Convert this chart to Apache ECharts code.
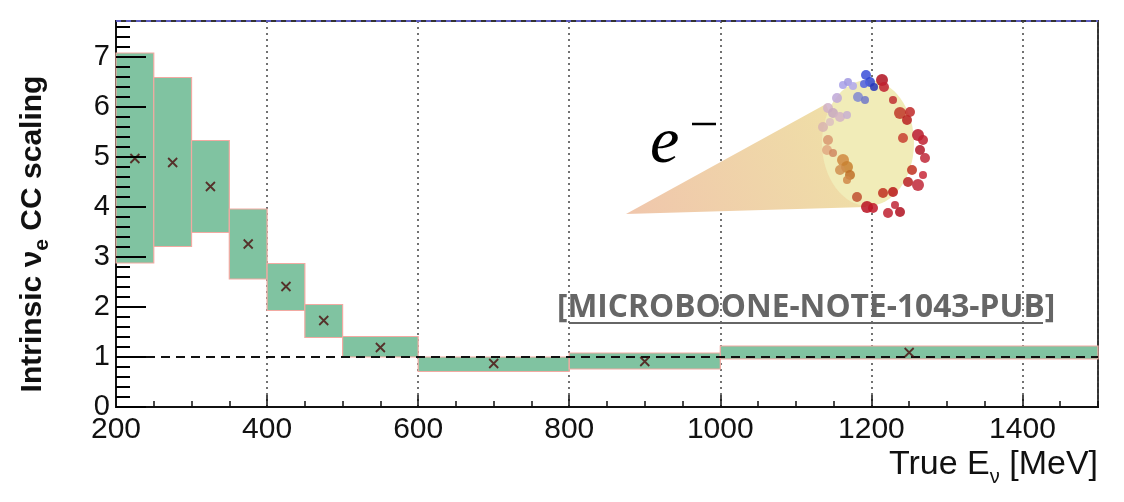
<!DOCTYPE html>
<html>
<head>
<meta charset="utf-8">
<script src="https://cdn.jsdelivr.net/npm/echarts@6/dist/echarts.min.js"></script>
<style>
  html, body { margin: 0; padding: 0; background: #fff; }
  #main { width: 1124px; height: 502px; }
</style>
</head>
<body>
<div id="main"></div>
<script>
// bins in true neutrino energy (MeV)
var binLow = [200, 250, 300, 350, 400, 450, 500, 600, 800, 1000];
var binHigh = [250, 300, 350, 400, 450, 500, 600, 800, 1000, 1500];
// band edges and central value of the scaling
var bandDown = [2.88, 3.21, 3.49, 2.56, 1.93, 1.39, 1.00, 0.71, 0.76, 0.96];
var bandUp = [7.08, 6.59, 5.33, 3.96, 2.87, 2.05, 1.41, 1.00, 1.08, 1.22];
var central = [4.97, 4.89, 4.41, 3.26, 2.41, 1.73, 1.19, 0.87, 0.91, 1.09];
var xTicks = [200, 400, 600, 800, 1000, 1200, 1400];
var yTicks = [0, 1, 2, 3, 4, 5, 6, 7];
var yMinorTicks = [0.2, 0.4, 0.6, 0.8, 1.2, 1.4, 1.6, 1.8, 2.2, 2.4, 2.6, 2.8, 3.2, 3.4, 3.6, 3.8,
  4.2, 4.4, 4.6, 4.8, 5.2, 5.4, 5.6, 5.8, 6.2, 6.4, 6.6, 6.8, 7.2, 7.4, 7.6];
var yMax = 7.72;

var chart = echarts.init(document.getElementById('main'));

var bandData = [];
var pointData = [];
for (var i = 0; i < binLow.length; i++) {
  bandData.push([binLow[i], binHigh[i], bandDown[i], bandUp[i]]);
  pointData.push([(binLow[i] + binHigh[i]) / 2, central[i]]);
}
// third value: 1 = long tick, 0 = short tick
var yTickData = yTicks.map(function (v) { return [200, v, 1]; })
  .concat(yMinorTicks.map(function (v) { return [200, v, 0]; }));

// decoration: electron shower cone
var balls = [
  [866, 75, 5, '#3b4fd8'], [870, 82, 5, '#2f45d0'], [864, 84, 4, '#5060e0'], [874, 87, 4, '#2535b8'],
  [882, 80, 6, '#b01020'], [884, 87, 5, '#c02030'],
  [843, 85, 4, '#a8a0e8'], [848, 82, 4, '#a098e0'], [853, 86, 4, '#b0a8ec'], [858, 97, 5, '#8088d0'],
  [865, 100, 4, '#7078c8'], [837, 98, 5, '#c0a8d8'], [828, 108, 5, '#d0b0c8'], [833, 113, 5, '#c8a8c0'],
  [840, 117, 5, '#d4b4c4'], [847, 115, 4, '#c8b0d0'], [823, 127, 5, '#d8b4b0'], [830, 122, 4, '#dcc0c0'],
  [828, 140, 5, '#d89870'], [827, 150, 5, '#e0a880'], [833, 153, 4, '#d08860'], [843, 160, 6, '#d08a40'],
  [847, 167, 6, '#c88030'], [840, 170, 5, '#d09050'], [850, 175, 5, '#c07028'], [847, 180, 4, '#d08848'],
  [857, 197, 5, '#c05030'], [893, 100, 4, '#c03030'], [900, 113, 6, '#c03828'], [907, 120, 5, '#b82020'],
  [910, 112, 5, '#c02828'], [918, 135, 6, '#b81828'], [923, 140, 5, '#c02030'], [903, 138, 5, '#c84030'],
  [920, 150, 5, '#b01828'], [925, 158, 5, '#c02838'], [912, 170, 5, '#c03020'], [923, 175, 4, '#c82838'],
  [908, 182, 5, '#b82020'], [918, 185, 6, '#c02838'], [893, 192, 5, '#b81818'], [883, 193, 5, '#c03020'],
  [867, 207, 6, '#b81020'], [873, 208, 5, '#c01828'], [888, 213, 5, '#c02030'], [900, 212, 5, '#b01020'],
  [895, 205, 4, '#c02838']
];
var coneGraphics = [
  {
    type: 'polygon', z: 1,
    shape: { points: [[626, 214], [826, 104], [866, 207]] },
    style: {
      fill: new echarts.graphic.LinearGradient(0, 1, 1, 0, [
        { offset: 0, color: '#f0c6ac' }, { offset: 1, color: '#efe2a6' }
      ])
    }
  },
  {
    type: 'circle', z: 2, x: 868, y: 143, scaleX: 0.73,
    shape: { cx: 0, cy: 0, r: 63 },
    style: { fill: '#f1ecb8' }
  }
];
balls.forEach(function (b) {
  coneGraphics.push({
    type: 'circle', z: 3,
    shape: { cx: b[0], cy: b[1], r: b[2] },
    style: { fill: b[3], opacity: 0.85 }
  });
});
coneGraphics.push({
  type: 'text', z: 3, x: 650, y: 145,
  style: { text: 'e', font: 'italic 66px "Liberation Serif"', fill: '#000', textVerticalAlign: 'middle' }
});
coneGraphics.push({
  type: 'line', z: 3,
  shape: { x1: 692, y1: 124, x2: 716, y2: 124 },
  style: { stroke: '#000', lineWidth: 2.5 }
});
// note label
coneGraphics.push({
  type: 'text', z: 5, x: 557, y: 292,
  style: { text: '[MICROBOONE-NOTE-1043-PUB]', font: 'bold 31.7px "Open Sans"', fill: '#666' }
});
coneGraphics.push({
  type: 'line', z: 5,
  shape: { x1: 569, y1: 323, x2: 1043, y2: 323 },
  style: { stroke: '#666', lineWidth: 2 }
});

var option = {
  animation: false,
  backgroundColor: '#fff',
  grid: { left: 116, right: 26, top: 21, bottom: 95, show: true, borderColor: '#333', borderWidth: 2 },
  xAxis: [
    {
      type: 'value', min: 200, max: 1500, interval: 200,
      name: '{a|True E}{s|ν}{a| [MeV]}',
      nameLocation: 'end', nameGap: 0,
      nameTextStyle: {
        align: 'right', verticalAlign: 'top', padding: [36, 0, 0, 0],
        rich: {
          a: { fontSize: 34, fontFamily: 'Liberation Sans', color: '#111', lineHeight: 40 },
          s: { fontSize: 20, fontFamily: 'Liberation Sans', color: '#111', lineHeight: 44, verticalAlign: 'bottom' }
        }
      },
      axisLine: { lineStyle: { color: '#111', width: 2 } },
      axisTick: { inside: true, length: 12, lineStyle: { color: '#111', width: 1.5 } },
      axisLabel: {
        fontSize: 30, fontFamily: 'Liberation Sans', color: '#111', margin: 8, showMaxLabel: false,
        formatter: function (v) { return xTicks.indexOf(v) >= 0 ? String(v) : ''; }
      },
      splitLine: { show: true, lineStyle: { color: '#444', width: 1.5, type: [2, 4] } }
    },
    {
      // minor ticks every 50 MeV
      type: 'value', min: 200, max: 1500, interval: 50, position: 'bottom',
      axisLine: { show: false },
      axisTick: { inside: true, length: 6, lineStyle: { color: '#111', width: 1.5 } },
      axisLabel: { show: false },
      splitLine: { show: false }
    }
  ],
  yAxis: {
    type: 'value', min: 0, max: yMax, interval: 1,
    name: '{a|Intrinsic ν}{s|e}{a| CC scaling}',
    nameLocation: 'middle', nameRotate: 90, nameGap: 63,
    nameTextStyle: {
      padding: [0, 40, 0, 0],
      rich: {
        a: { fontSize: 30, fontWeight: 'bold', fontFamily: 'Liberation Sans', color: '#111', lineHeight: 40 },
        s: { fontSize: 21, fontWeight: 'bold', fontFamily: 'Liberation Sans', color: '#111', lineHeight: 40, verticalAlign: 'bottom' }
      }
    },
    axisLine: { lineStyle: { color: '#111', width: 2 } },
    axisTick: { show: false },
    axisLabel: {
      fontSize: 29, fontFamily: 'Liberation Sans', color: '#111', margin: 6, showMaxLabel: false,
      formatter: function (v) { return yTicks.indexOf(v) >= 0 ? String(v) : ''; }
    },
    splitLine: { show: false }
  },
  series: [
    {
      type: 'custom',
      z: 3,
      data: bandData,
      renderItem: function (params, api) {
        var p0 = api.coord([api.value(0), api.value(3)]);
        var p1 = api.coord([api.value(1), api.value(2)]);
        return {
          type: 'rect',
          shape: { x: p0[0], y: p0[1], width: p1[0] - p0[0], height: p1[1] - p0[1] },
          style: { fill: '#80c3a1', stroke: '#f2aaa2', lineWidth: 1.2 }
        };
      }
    },
    {
      // ROOT style y ticks drawn over the bands
      type: 'custom',
      z: 20,
      clip: false,
      data: yTickData,
      renderItem: function (params, api) {
        var p = api.coord([api.value(0), api.value(1)]);
        var len = api.value(2) === 1 ? 30 : 14;
        return {
          type: 'line',
          shape: { x1: p[0], y1: p[1], x2: p[0] + len, y2: p[1] },
          style: { stroke: '#000', lineWidth: 2 }
        };
      }
    },
    {
      type: 'scatter',
      z: 5,
      data: pointData,
      symbol: 'path://M0,0L10,10M10,0L0,10',
      symbolSize: 9,
      itemStyle: { color: 'rgba(0,0,0,0)', borderColor: '#4a0c0c', borderWidth: 1.8 },
      markLine: {
        silent: true, symbol: 'none', label: { show: false },
        data: [
          { yAxis: 1, lineStyle: { color: '#111', width: 2, type: [9, 6] } },
          { yAxis: yMax, lineStyle: { color: '#6a6af0', width: 1.5, type: [5, 5] } }
        ]
      }
    }
  ],
  graphic: coneGraphics
};

chart.setOption(option);
</script>
</body>
</html>
